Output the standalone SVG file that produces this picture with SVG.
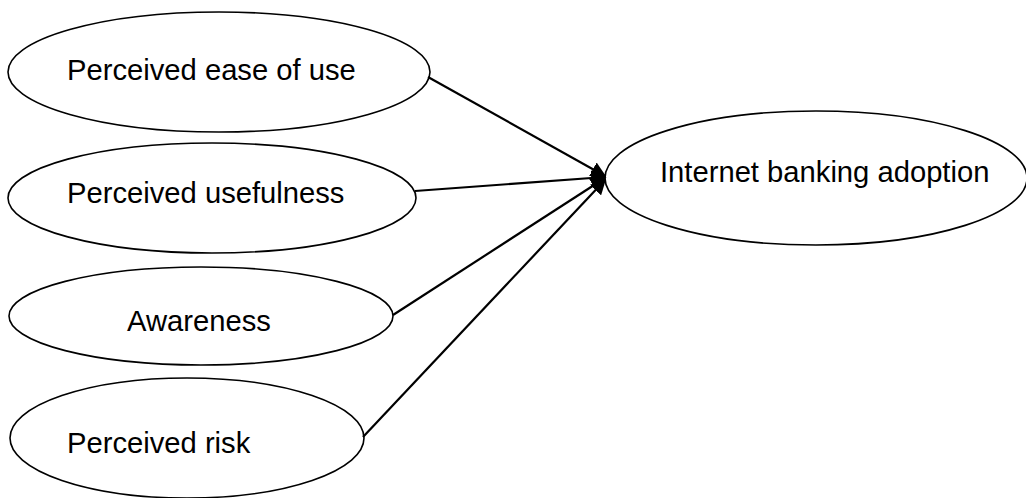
<svg xmlns="http://www.w3.org/2000/svg" width="1026" height="498" viewBox="0 0 1026 498">
  <style>
    .node ellipse { fill: #ffffff; stroke: #000000; stroke-width: 1.6; }
    .node text { font-family: "Liberation Sans", Arial, sans-serif; font-size: 29.2px; fill: #000000; }
    .edge { stroke: #000000; stroke-width: 2.2; fill: none; marker-end: url(#arrow); }
  </style>
  <defs>
    <marker id="arrow" viewBox="0 0 10 10" refX="9" refY="5" markerWidth="7" markerHeight="7" markerUnits="strokeWidth" orient="auto">
      <path d="M0,0 L10,5 L0,10 Z" fill="#000000"/>
    </marker>
  </defs>

  <rect width="1026" height="498" fill="#ffffff"/>

  <g id="n-ease" class="node">
    <ellipse cx="219" cy="72" rx="211" ry="60"/>
    <text x="67" y="80">Perceived ease of use</text>
  </g>
  <g id="n-useful" class="node">
    <ellipse cx="212" cy="198" rx="204" ry="55"/>
    <text x="67" y="203">Perceived usefulness</text>
  </g>
  <g id="n-aware" class="node">
    <ellipse cx="201" cy="316" rx="192" ry="49"/>
    <text x="127" y="331">Awareness</text>
  </g>
  <g id="n-risk" class="node">
    <ellipse cx="187" cy="438" rx="177" ry="60"/>
    <text x="67" y="453">Perceived risk</text>
  </g>
  <g id="n-adopt" class="node">
    <ellipse cx="816" cy="178" rx="211" ry="67"/>
    <text x="660" y="182">Internet banking adoption</text>
  </g>

  <g id="connectors">
    <line class="edge" x1="428" y1="77" x2="605" y2="176"/>
    <line class="edge" x1="415" y1="191" x2="605" y2="177"/>
    <line class="edge" x1="393" y1="315" x2="605" y2="178"/>
    <line class="edge" x1="363" y1="437" x2="605" y2="180"/>
  </g>
</svg>
